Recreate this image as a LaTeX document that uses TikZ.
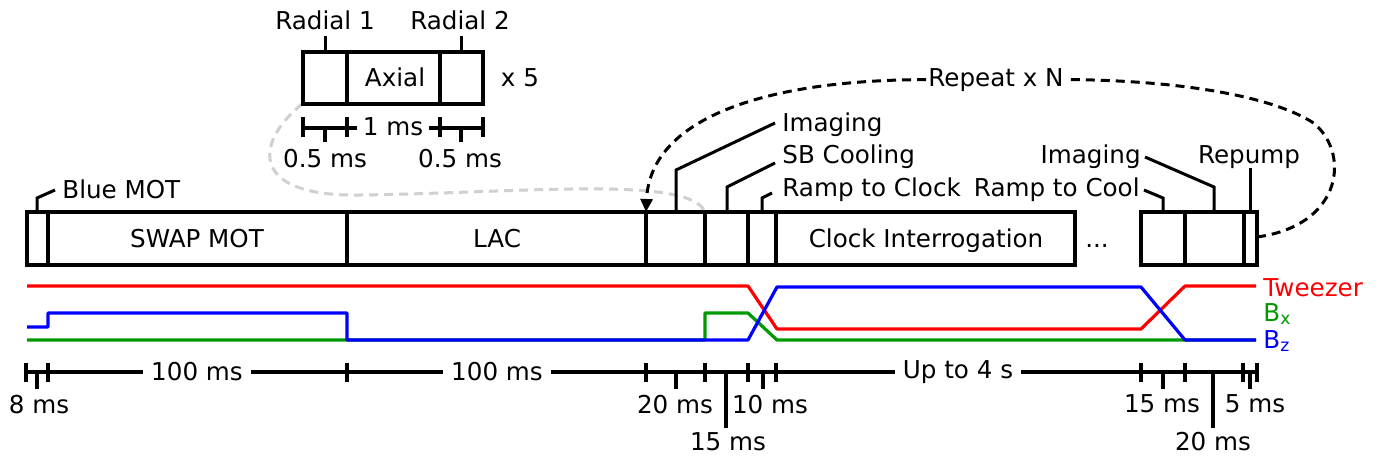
\documentclass[tikz,border=0pt]{standalone}
\usepackage{fontspec}
\setmainfont{DejaVu Sans}
\usetikzlibrary{arrows.meta}
\definecolor{tred}{RGB}{255,0,0}
\definecolor{tgreen}{RGB}{0,153,0}
\definecolor{tblue}{RGB}{0,0,255}
\definecolor{lgray}{RGB}{208,208,208}
\begin{document}
\begin{tikzpicture}[x=0.5pt,y=-0.5pt,
  font=\fontsize{12.3}{14}\selectfont,
  boxline/.style={line width=1.8pt},
  lead/.style={line width=1.5pt},
  lbl/.style={inner sep=0pt},
  gaplbl/.style={fill=white, inner ysep=1pt, inner xsep=4pt},
  sig/.style={line width=1.6pt, line join=round},
  tk/.style={line width=1.6pt},
  loopdash/.style={line width=1.5pt, dash pattern=on 4.5pt off 3pt},
  graydash/.style={line width=1.5pt, lgray, dash pattern=on 4.5pt off 3pt},
  ]
\useasboundingbox (0,0) rectangle (1384,462);

% ---------- gray dashed zoom curve (behind) ----------
\coordinate (insetBL) at (302,104);
\coordinate (grayEnd) at (705,212);
\draw[graydash] (insetBL) .. controls (252,145) and (252,197) .. (360,195)
   .. controls (520,193) and (690,175) .. (grayEnd);

% ---------- main sequence bar ----------
\draw[boxline] (27,212) rectangle (1075,265);
\foreach \x in {48,347,646,705,748,776}
  \draw[boxline] (\x,212) -- (\x,265);
\draw[boxline] (1141,212) rectangle (1257,265);
\foreach \x in {1185,1244}
  \draw[boxline] (\x,212) -- (\x,265);

\node[lbl, anchor=base] (swap) at (197,247) {SWAP MOT};
\node[lbl, anchor=base] (lac) at (497,247) {LAC};
\node[lbl, anchor=base] (clock) at (926,247) {Clock Interrogation};
\node[lbl, anchor=base] (dots) at (1097,247) {...};

% ---------- leaders ----------
\coordinate (bmA) at (37,212);
\node[lbl, anchor=base west] (bluemot) at (62,198) {Blue MOT};
\draw[lead] (bmA) -- (37,198) -- (55,190);

\coordinate (imA) at (676,212);
\node[lbl, anchor=base west] (imaging1) at (782,131) {Imaging};
\draw[lead] (imA) -- (676,170) -- (775,123);

\coordinate (sbA) at (727,212);
\node[lbl, anchor=base west] (sbcool) at (782,163) {SB Cooling};
\draw[lead] (sbA) -- (727,187) -- (775,163);

\coordinate (rcA) at (762,212);
\node[lbl, anchor=base west] (rampclock) at (782,196) {Ramp to Clock};
\draw[lead] (rcA) -- (762,198) -- (772,193);

\coordinate (rcoolA) at (1163,212);
\node[lbl, anchor=base east] (rampcool) at (1140,196) {Ramp to Cool};
\draw[lead] (rcoolA) -- (1163,198) -- (1144,190);

\coordinate (im2A) at (1214,212);
\node[lbl, anchor=base east] (imaging2) at (1141,163) {Imaging};
\draw[lead] (im2A) -- (1214,187) -- (1145,157);

\coordinate (repA) at (1250,212);
\node[lbl, anchor=base] (repump) at (1249,163) {Repump};
\draw[lead] (repA) -- (1250,168);

% ---------- repeat loop ----------
\node[lbl, anchor=base] (repeat) at (996,86) {Repeat x N};
\coordinate (loopStart) at (1257,237);
\coordinate (loopEnd) at (646,212);
\draw[loopdash] (loopStart) .. controls (1345,225) and (1350,150) .. (1312,122)
   .. controls (1260,90) and (1150,80) .. ([xshift=2pt]repeat.east);
\draw[loopdash, -{Triangle[width=6pt,length=6.5pt]}] ([xshift=-1pt]repeat.west)
   .. controls (760,80) and (650,120) .. (loopEnd);

% ---------- inset ----------
\draw[boxline] (303,52) rectangle (483,104);
\foreach \x in {347,440}
  \draw[boxline] (\x,52) -- (\x,104);
\node[lbl, anchor=base] (axial) at (395,86) {Axial};
\node[lbl, anchor=base] (xfive) at (520,86) {x 5};
\coordinate (r1A) at (325,52);
\coordinate (r2A) at (461,52);
\node[lbl, anchor=base] (radial1) at (325,29) {Radial 1};
\node[lbl, anchor=base] (radial2) at (460,29) {Radial 2};
\draw[lead] (r1A) -- (325,36);
\draw[lead] (r2A) -- (461,36);

\draw[tk] (303,128) -- (483,128);
\node[fill=white, inner ysep=1pt, inner xsep=3pt] (onems) at (393,127) {1 ms};
\foreach \x in {303,347,440,483}
  \draw[tk] (\x,117) -- (\x,137);
\foreach \x in {325,461}
  \draw[tk] (\x,128) -- (\x,142);
\node[lbl, anchor=base] (half1) at (325,167) {0.5 ms};
\node[lbl, anchor=base] (half2) at (460,167) {0.5 ms};

% ---------- signal traces ----------
\draw[sig, tred] (27,286) -- (748,286) -- (777,329) -- (1141,329) -- (1185,286) -- (1256,286);
\draw[sig, tgreen] (27,340) -- (705,340) -- (705,313) -- (748,313) -- (777,340) -- (1256,340);
\draw[sig, tblue] (27,327) -- (48,327) -- (48,313) -- (347,313) -- (347,340) -- (748,340)
   -- (777,287) -- (1141,287) -- (1185,340) -- (1256,340);
\node[lbl, anchor=base west, text=tred] (tweezer) at (1263,296) {Tweezer};
\node[lbl, anchor=base west, text=tgreen] (bx) at (1263,321) {B\textsubscript{x}};
\node[lbl, anchor=base west, text=tblue] (bz) at (1263,348) {B\textsubscript{z}};

% ---------- time axis ----------
\draw[tk] (26,372) -- (1257,372);
\node[gaplbl] (t100a) at (197,372) {100 ms};
\node[gaplbl] (t100b) at (497,372) {100 ms};
\node[gaplbl] (t4s) at (958,372) {Up to 4 s};
\foreach \x in {26,48,347,646,705,748,776,1141,1185,1243,1257}
  \draw[tk] (\x,363) -- (\x,382);
\foreach \x in {37,676,763,1163,1250}
  \draw[tk] (\x,372) -- (\x,389);
\foreach \x in {726,1213}
  \draw[tk] (\x,372) -- (\x,428);
\node[lbl, anchor=base] (t8) at (39,413) {8 ms};
\node[lbl, anchor=base] (t20a) at (675,413) {20 ms};
\node[lbl, anchor=base] (t10) at (770,413) {10 ms};
\node[lbl, anchor=base] (t15a) at (728,450) {15 ms};
\node[lbl, anchor=base] (t15b) at (1162,412) {15 ms};
\node[lbl, anchor=base] (t5) at (1255,412) {5 ms};
\node[lbl, anchor=base] (t20b) at (1213,450) {20 ms};
\end{tikzpicture}
\end{document}
